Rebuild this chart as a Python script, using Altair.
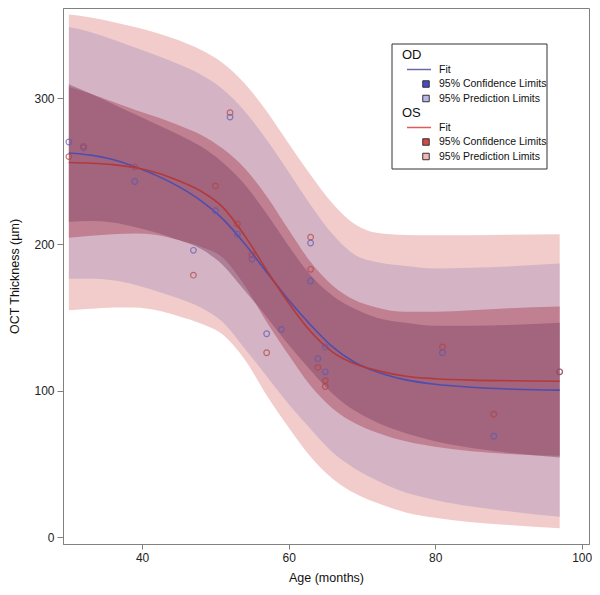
import altair as alt
import pandas as pd

FONT = "Liberation Sans"

# ---- fitted curves and limits ----
xs = [30, 33, 36, 39, 42, 45, 48, 51, 54, 57, 60, 63, 66, 69, 72, 76, 80, 85, 90, 97]

od_fit = [262.5, 261, 258, 253, 247, 239.5, 230, 217.5, 200.5, 181, 162, 145, 130, 119.5, 113, 107.5, 104.5, 102.5, 101.3, 100.5]
os_fit = [256, 255.5, 254.5, 252.5, 249, 243.5, 236.5, 225.5, 206, 182.5, 160, 140.5, 126.5, 118.5, 114, 110, 108.3, 107.3, 106.9, 106.6]

od_conf_lo = [215.5, 216, 215, 212, 208, 203, 197, 186, 168.5, 150.5, 131.5, 114, 98, 86.5, 78.5, 71, 65.5, 61, 57.8, 54.5]
od_conf_hi = [309.5, 303, 296, 289, 282, 275, 267, 256, 241, 221, 199, 179, 165, 156, 150, 146.5, 144.5, 144.5, 145, 146.5]
os_conf_lo = [204.5, 206, 207, 207.5, 206.5, 203, 198.5, 191, 172, 147, 124.5, 103.5, 88, 78, 71.5, 65.5, 61.8, 58.8, 56.9, 55.6]
os_conf_hi = [307.5, 303, 297.5, 292, 287, 281.5, 275, 265.5, 252, 233, 210, 188, 172, 162, 157, 154, 154, 155, 156.5, 157.6]

od_pred_lo = [176.5, 176.5, 175.5, 172.5, 168, 163, 157, 147, 129, 110, 91, 74, 58, 47, 39, 30.5, 25.5, 21, 17.8, 14]
od_pred_hi = [348.5, 345, 340, 334.5, 329, 323, 316, 306, 291, 271.5, 249.5, 227, 207, 193, 188, 185.2, 183.5, 184, 185, 187]
os_pred_lo = [155, 156, 157, 157, 155, 151, 146, 138.5, 121.5, 97, 75, 55, 40, 30, 23.5, 17, 13.3, 10.3, 8.4, 6.1]
os_pred_hi = [357, 355, 352, 348.5, 344.5, 339.5, 333, 324, 310, 291, 269, 247.5, 228, 214, 208, 206.5, 206.3, 206.3, 206.6, 207]

# ---- observations ----
od_age = [30, 32, 39, 47, 50, 52, 53, 55, 57, 59, 63, 63, 64, 65, 65, 81, 88, 97]
od_thk = [270, 266, 243, 196, 223, 287, 207, 190, 139, 142, 201, 175, 122, 130, 113, 126, 69, 113]
os_age = [30, 32, 39, 47, 50, 52, 53, 55, 57, 63, 63, 64, 65, 65, 81, 88, 97]
os_thk = [260, 267, 253, 179, 240, 290, 214, 193, 126, 205, 183, 116, 107, 103, 130, 84, 113]

# ---- legend entries ----
leg_labels = ["OD", "Fit", "95% Confidence Limits", "95% Prediction Limits",
              "OS", "Fit", "95% Confidence Limits", "95% Prediction Limits"]
leg_kind = ["head", "line", "box", "box", "head", "line", "box", "box"]
leg_swatch = ["", "#6a6aa8", "#4a4ac4", "#b8b8e6", "", "#e25a5a", "#d04848", "#f2b6b6"]

bands = pd.DataFrame({
    "x": xs, "od_fit": od_fit, "os_fit": os_fit,
    "od_cl": od_conf_lo, "od_cu": od_conf_hi, "os_cl": os_conf_lo, "os_cu": os_conf_hi,
    "od_pl": od_pred_lo, "od_pu": od_pred_hi, "os_pl": os_pred_lo, "os_pu": os_pred_hi,
})
pts = pd.DataFrame({
    "x": od_age + os_age,
    "y": od_thk + os_thk,
    "eye": ["OD"] * len(od_age) + ["OS"] * len(os_age),
})
leg = pd.DataFrame({"label": leg_labels, "kind": leg_kind, "swatch": leg_swatch,
                    "row": list(range(len(leg_labels)))})

xscale = alt.Scale(domain=[29.2, 101], nice=False, zero=False)
yscale = alt.Scale(domain=[-4.6, 361.5], nice=False, zero=False)
xaxis = alt.Axis(values=[40, 60, 80, 100], title="Age (months)", grid=False,
                 tickSize=5, labelPadding=3, titlePadding=8)
yaxis = alt.Axis(values=[0, 100, 200, 300], title="OCT Thickness (\u00b5m)", grid=False,
                 tickSize=6, labelPadding=3, titlePadding=12)

base = alt.Chart(bands)


def band(lo, hi, color, op):
    return base.mark_area(color=color, opacity=op, interpolate="monotone").encode(
        x=alt.X("x:Q", scale=xscale, axis=xaxis),
        y=alt.Y(f"{lo}:Q", scale=yscale, axis=yaxis),
        y2=f"{hi}:Q",
    )


def fitline(col, color):
    return base.mark_line(color=color, strokeWidth=1.6, interpolate="monotone").encode(
        x=alt.X("x:Q", scale=xscale, axis=xaxis),
        y=alt.Y(f"{col}:Q", scale=yscale, axis=yaxis),
    )


points = alt.Chart(pts).mark_point(shape="circle", filled=False, size=32, strokeWidth=1.2).encode(
    x=alt.X("x:Q", scale=xscale, axis=xaxis),
    y=alt.Y("y:Q", scale=yscale, axis=yaxis),
    color=alt.Color("eye:N", scale=alt.Scale(domain=["OD", "OS"], range=["#5a5ab4", "#b04444"]),
                    legend=None),
)

# ---- legend drawn as marks ----
lbase = alt.Chart(leg).transform_calculate(py="47 + datum.row * 14.5")
ly = alt.Y("py:Q", scale=None, axis=None)

leg_box = alt.Chart(pd.DataFrame({"a": [0]})).mark_rect(
    fill="white", stroke="#333333", strokeWidth=1).encode(
    x=alt.value(329), x2=alt.value(484), y=alt.value(36), y2=alt.value(161))

leg_head = lbase.transform_filter("datum.kind == 'head'").mark_text(
    align="left", baseline="middle", fontSize=13, font=FONT, color="#111111").encode(
    x=alt.value(339), y=ly, text="label:N")

leg_text = lbase.transform_filter("datum.kind != 'head'").mark_text(
    align="left", baseline="middle", fontSize=10.5, font=FONT, color="#111111").encode(
    x=alt.value(376), y=ly, text="label:N")

leg_line = lbase.transform_filter("datum.kind == 'line'").mark_rule(strokeWidth=1.5).encode(
    x=alt.value(344), x2=alt.value(368), y=ly, color=alt.Color("swatch:N", scale=None))

leg_sq = lbase.transform_filter("datum.kind == 'box'").mark_square(
    filled=True, size=42, stroke="#333333", strokeWidth=1, opacity=1).encode(
    x=alt.value(363), y=ly, fill=alt.Fill("swatch:N", scale=None))

chart = alt.layer(
    band("os_pl", "os_pu", "#e8a0a0", 0.55),
    band("od_pl", "od_pu", "#b69dbd", 0.5),
    band("os_cl", "os_cu", "#ac4c5e", 0.5),
    band("od_cl", "od_cu", "#864869", 0.5),
    fitline("od_fit", "#4e4eae"),
    fitline("os_fit", "#b23a3a"),
    points,
    leg_box, leg_head, leg_text, leg_line, leg_sq,
).properties(
    width=526, height=536,
    padding={"left": 55, "top": 0, "right": 3, "bottom": 42},
    autosize=alt.AutoSizeParams(type="none"),
).configure_view(
    stroke="#808080", strokeWidth=1
).configure_axis(
    labelFont=FONT, titleFont=FONT, labelFontSize=12, titleFontSize=12.5,
    labelColor="#222222", titleColor="#111111", titleFontWeight="normal",
    domainColor="#808080", tickColor="#808080",
)

chart.save("out.html", embed_options={"renderer": "svg", "actions": False})
